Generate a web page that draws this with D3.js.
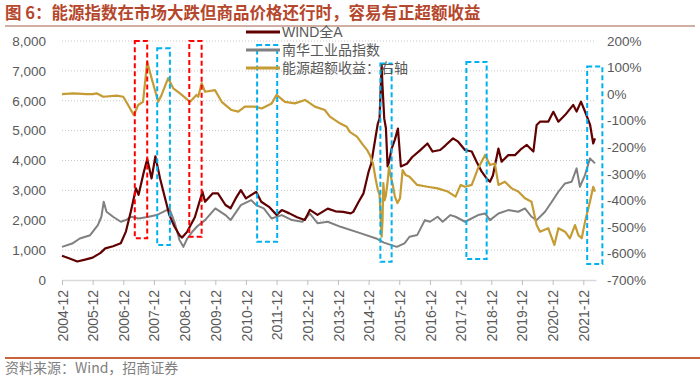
<!DOCTYPE html>
<html>
<head>
<meta charset="utf-8">
<script src="https://cdn.jsdelivr.net/npm/d3@7"></script>
<style>
  body { margin: 0; background: #fff; }
  svg { display: block; }
</style>
</head>
<body>
<svg id="chart"></svg>
<script>
// WIND全A (left axis)
const windDates = ["2004-12","2005-03","2005-06","2005-09","2005-12","2006-03","2006-05","2006-08","2006-11","2007-01",
  "2007-03","2007-05","2007-06","2007-08","2007-09-12","2007-11-03","2007-12-18","2008-02-12","2008-04","2008-06",
  "2008-08","2008-10","2008-11","2009-01","2009-04","2009-07","2009-08","2009-11","2010-01","2010-04",
  "2010-06","2010-08","2010-10","2010-12","2011-04","2011-06","2011-09","2011-12","2012-02","2012-05",
  "2012-08","2012-11","2013-01","2013-04","2013-08","2013-11","2014-02","2014-05","2014-06","2014-08",
  "2014-10","2014-12","2015-01","2015-02-15","2015-03-20","2015-04-10","2015-05-05","2015-05-15","2015-06-05","2015-06-25",
  "2015-07-15","2015-08-01","2015-09-01","2015-10-10","2015-11-15","2015-12-20","2016-03","2016-05","2016-08","2016-11",
  "2017-01","2017-04","2017-06","2017-09","2017-11","2018-01-22","2018-04-12","2018-06-09","2018-08-09","2018-10-06",
  "2018-11-15","2018-12-20","2019-02-24","2019-04-03","2019-06-21","2019-09-09","2019-11-28","2020-01-28","2020-04-15","2020-05-24",
  "2020-07-03","2020-10-09","2020-12-09","2021-02-07","2021-04-27","2021-08-03","2021-09-12","2021-11-03","2021-12-21","2022-02-20",
  "2022-03-29","2022-04-19"];
const windValues = [810,720,620,680,750,900,1060,1130,1230,1620,
  2290,3070,2850,3600,4050,3400,4140,3400,2850,2180,
  1790,1500,1420,1620,2100,2950,2620,2900,2900,2510,
  2400,2730,3010,2730,2950,2620,2450,2180,2340,2230,
  2100,2010,2350,2180,2390,2300,2280,2230,2280,2600,
  2900,3630,3900,4670,5230,5400,7200,6500,5400,5080,
  3800,3960,4400,4700,5070,3800,3890,4110,4330,4570,
  4300,4350,4500,4740,4630,4350,4300,3960,3625,3400,
  3290,3500,4400,3960,4180,4180,4400,4520,4300,5190,
  5300,5300,5630,5300,5520,5860,5640,5970,5640,5190,
  4570,4740];

// 南华工业品指数 (left axis)
const nanhuaDates = ["2004-12","2005-04","2005-07","2005-11","2006-02","2006-03-15","2006-04-12","2006-05-15","2006-08","2006-11",
  "2007-01","2007-03","2007-06","2007-10","2008-01","2008-05","2008-06","2008-08","2008-10","2008-11-15",
  "2009-01","2009-03","2009-05","2009-08","2009-12","2010-04","2010-06","2010-10","2011-02","2011-04",
  "2011-07","2011-10","2012-02","2012-06","2012-10","2013-01","2013-04","2013-08","2014-01","2014-09",
  "2015-03","2015-06","2015-11","2016-02","2016-04","2016-07","2016-10","2016-12","2017-03","2017-05",
  "2017-08","2017-10","2018-01-22","2018-06-27","2018-09-18","2018-11-15","2019-02-24","2019-06-21","2019-10-18","2020-01-06",
  "2020-03-24","2020-05-24","2020-09-01","2020-11-21","2021-02-07","2021-04-27","2021-07-15","2021-09-12","2021-10-21","2021-12-21",
  "2022-02-18","2022-04-19"];
const nanhuaValues = [1110,1220,1390,1500,1840,2117,2620,2285,2117,1950,
  2006,2117,2061,2117,2173,2340,2400,1950,1335,1110,
  1390,1614,1800,2005,2396,2173,2005,2508,2675,2508,
  2396,2061,2173,2005,1950,2220,1900,1950,1780,1560,
  1390,1250,1110,1224,1447,1503,2005,1950,2117,1950,
  2173,2117,1950,2173,2228,2005,2228,2340,2284,2396,
  2117,2005,2284,2619,2954,3233,3289,3736,3122,3513,
  4072,3904];

// 能源超额收益 (right axis, %)
const excessDates = ["2004-12","2005-04-12","2005-09-21","2005-12-03","2006-01-18","2006-04-06","2006-09-12","2006-12-01","2007-01-27","2007-04-06",
  "2007-05-27","2007-07-24","2007-09-12","2007-11-03","2008-01-21","2008-03-01","2008-05-18","2008-07-18","2008-10-06","2009-02-03",
  "2009-04-21","2009-05-12","2009-06-21","2009-08-01","2009-11-27","2010-02-15","2010-06-12","2010-09-01","2010-11-18","2011-03-15",
  "2011-06-06","2011-10-03","2011-12-01","2012-03-09","2012-07-06","2012-11-03","2013-03-01","2013-06-27","2013-08-27","2013-12-24",
  "2014-03-15","2014-04-21","2014-07-15","2014-09-27","2014-11-12","2014-12-15","2015-01-21","2015-02-21","2015-03-21","2015-04-10",
  "2015-05-05","2015-05-15","2015-05-25","2015-06-10","2015-06-25","2015-07-15","2015-08-01","2015-08-15","2015-09-15","2015-10-10",
  "2015-11-10","2015-12-10","2016-01-10","2016-02-15","2016-04-01","2016-07-01","2016-11-01","2017-03-01","2017-07-01","2017-10-01",
  "2017-12-01","2018-01-22","2018-04-12","2018-06-27","2018-09-18","2018-11-15","2019-01-12","2019-02-24","2019-05-12","2019-08-01",
  "2019-10-18","2020-01-06","2020-03-24","2020-05-24","2020-07-03","2020-10-09","2020-12-21","2021-02-07","2021-04-27","2021-06-24",
  "2021-08-24","2021-10-03","2021-11-12","2021-12-21","2022-02-18","2022-03-29","2022-04-19"];
const excessValues = [0,3,0,0,3,-10,-6,-10,-41,-79,
  -41,-29,122,60,-29,-3,60,22,3,-29,
  -3,-10,41,9,15,-29,-60,-66,-47,-47,
  -54,-35,-3,-29,-35,-22,-47,-60,-85,-110,
  -123,-142,-160,-192,-210,-229,-260,-317,-361,-380,
  -537,-480,-335,-400,-380,-330,-273,-300,-342,-386,
  -410,-392,-286,-305,-311,-342,-349,-355,-367,-386,
  -342,-349,-342,-279,-229,-267,-261,-342,-330,-355,
  -367,-392,-405,-493,-518,-505,-568,-505,-518,-543,
  -493,-531,-543,-481,-405,-349,-367];

const leftTicks = [0, 1000, 2000, 3000, 4000, 5000, 6000, 7000, 8000];
const rightTicks = [-700, -600, -500, -400, -300, -200, -100, 0, 100, 200];
const xTickLabels = ["2004-12","2005-12","2006-12","2007-12","2008-12","2009-12","2010-12","2011-12","2012-12",
  "2013-12","2014-12","2015-12","2016-12","2017-12","2018-12","2019-12","2020-12","2021-12"];
const seriesNames = ["WIND全A", "南华工业品指数", "能源超额收益：右轴"];

// highlighted periods (dates and left-axis values)
const boxStart = ["2007-04-17","2008-01-09","2009-01-25","2011-04-13","2015-04-20","2018-02-07","2022-01-16"];
const boxEnd = ["2007-09-12","2008-06-08","2009-06-21","2011-12-08","2015-09-01","2018-10-07","2022-07-16"];
const boxTop = [8000, 7755, 8000, 7865, 7250, 7300, 7150];
const boxBottom = [1400, 1170, 1450, 1280, 610, 700, 535];
const boxGroup = [0, 1, 0, 1, 1, 1, 1];

const parseDay = d3.timeParse("%Y-%m-%d");
const parseMonth = d3.timeParse("%Y-%m");
const parseDate = s => parseDay(s) || parseMonth(s);

const W = 700, H = 377;
const margin = { top: 41, right: 104, bottom: 97, left: 62 };
const width = W - margin.left - margin.right;
const height = H - margin.top - margin.bottom;

const colors = ["#600000", "#808080", "#c59b33"];
const boxColors = ["#ff0000", "#00b0f0"];
const numFont = "'Liberation Sans', Arial, 'Noto Sans CJK SC', sans-serif";
const cjkFont = "'Noto Sans CJK SC', 'Liberation Sans', sans-serif";

const svg = d3.select("#chart").attr("width", W).attr("height", H);

// title + rules
svg.append("text")
    .attr("x", 5).attr("y", 19)
    .attr("font-family", cjkFont)
    .attr("font-size", "16.5px")
    .attr("font-weight", "bold")
    .attr("fill", "#b5472c")
    .text("图 6：能源指数在市场大跌但商品价格还行时，容易有正超额收益");
svg.append("line")
    .attr("x1", 5).attr("x2", 695).attr("y1", 26).attr("y2", 26)
    .attr("stroke", "#a0614b").attr("stroke-width", 1);
svg.append("line")
    .attr("x1", 5).attr("x2", 700).attr("y1", 358).attr("y2", 358)
    .attr("stroke", "#c8643c").attr("stroke-width", 2);
svg.append("text")
    .attr("x", 5).attr("y", 373)
    .attr("font-family", cjkFont)
    .attr("font-size", "14px")
    .attr("fill", "#808080")
    .text("资料来源：Wind，招商证券");

const g = svg.append("g").attr("transform", `translate(${margin.left},${margin.top})`);

const x = d3.scaleTime()
    .domain([new Date(2004, 11, 1), new Date(2022, 4, 1)])
    .range([0, width]);
const yL = d3.scaleLinear().domain([0, 8000]).range([height, 0]);
const yR = d3.scaleLinear().domain([-700, 200]).range([height, 0]);

// gridlines
g.append("g").selectAll("line")
    .data(leftTicks.filter(d => d > 0))
    .enter().append("line")
    .attr("x1", 0).attr("x2", width)
    .attr("y1", d => yL(d)).attr("y2", d => yL(d))
    .attr("stroke", "#c8c8c8")
    .attr("stroke-width", 1)
    .attr("stroke-dasharray", "1,2");

// x axis
const xAxis = g.append("g")
    .attr("transform", `translate(0,${height})`)
    .call(d3.axisBottom(x)
        .tickValues(xTickLabels.map(parseDate))
        .tickFormat(d3.timeFormat("%Y-%m"))
        .tickSize(5).tickSizeOuter(0));
xAxis.select(".domain").attr("stroke", "#d9d9d9").attr("stroke-width", 1.5);
xAxis.selectAll(".tick line").attr("stroke", "#bfbfbf");
xAxis.selectAll(".tick text")
    .attr("font-family", numFont)
    .attr("font-size", "14px")
    .attr("fill", "#595959")
    .attr("transform", "rotate(-90)")
    .attr("text-anchor", "end")
    .attr("x", -10).attr("y", 0).attr("dy", "0.36em");

// left axis
const yAxisL = g.append("g")
    .call(d3.axisLeft(yL).tickValues(leftTicks).tickFormat(d3.format(",")).tickSize(0).tickPadding(16));
yAxisL.select(".domain").remove();
yAxisL.selectAll("text").attr("font-family", numFont).attr("font-size", "13.5px").attr("fill", "#595959");

// right axis
const yAxisR = g.append("g")
    .attr("transform", `translate(${width},0)`)
    .call(d3.axisRight(yR).tickValues(rightTicks).tickFormat(d => d + "%").tickSize(0).tickPadding(11));
yAxisR.select(".domain").remove();
yAxisR.selectAll("text").attr("font-family", numFont).attr("font-size", "13.5px").attr("fill", "#595959");

// series
const windData = windDates.map((d, i) => ({ date: parseDate(d), value: windValues[i] }));
const nanhuaData = nanhuaDates.map((d, i) => ({ date: parseDate(d), value: nanhuaValues[i] }));
const excessData = excessDates.map((d, i) => ({ date: parseDate(d), value: excessValues[i] }));

const lineL = d3.line().x(d => x(d.date)).y(d => yL(d.value));
const lineR = d3.line().x(d => x(d.date)).y(d => yR(d.value));

g.append("path").datum(nanhuaData)
    .attr("d", lineL).attr("fill", "none")
    .attr("stroke", colors[1]).attr("stroke-width", 2).attr("stroke-linejoin", "round");
g.append("path").datum(windData)
    .attr("d", lineL).attr("fill", "none")
    .attr("stroke", colors[0]).attr("stroke-width", 2.2).attr("stroke-linejoin", "round");
g.append("path").datum(excessData)
    .attr("d", lineR).attr("fill", "none")
    .attr("stroke", colors[2]).attr("stroke-width", 2.2).attr("stroke-linejoin", "round");

// dashed boxes
g.append("g").selectAll("rect")
    .data(boxStart.map((d, i) => i))
    .enter().append("rect")
    .attr("x", i => x(parseDate(boxStart[i])))
    .attr("width", i => x(parseDate(boxEnd[i])) - x(parseDate(boxStart[i])))
    .attr("y", i => yL(boxTop[i]))
    .attr("height", i => yL(boxBottom[i]) - yL(boxTop[i]))
    .attr("fill", "none")
    .attr("stroke", i => boxColors[boxGroup[i]])
    .attr("stroke-width", 2)
    .attr("stroke-dasharray", "5,3");

// legend
const legend = svg.append("g").attr("transform", "translate(246,32)");
seriesNames.forEach((name, i) => {
    const row = legend.append("g").attr("transform", `translate(0,${i * 18})`);
    row.append("line")
        .attr("x1", 0).attr("x2", 34)
        .attr("stroke", colors[i]).attr("stroke-width", 3);
    row.append("text")
        .attr("x", 36).attr("dy", "0.36em")
        .attr("font-family", "'Liberation Sans', 'Noto Sans CJK SC', sans-serif")
        .attr("font-size", "14px")
        .attr("fill", "#595959")
        .text(name);
});
</script>
</body>
</html>
